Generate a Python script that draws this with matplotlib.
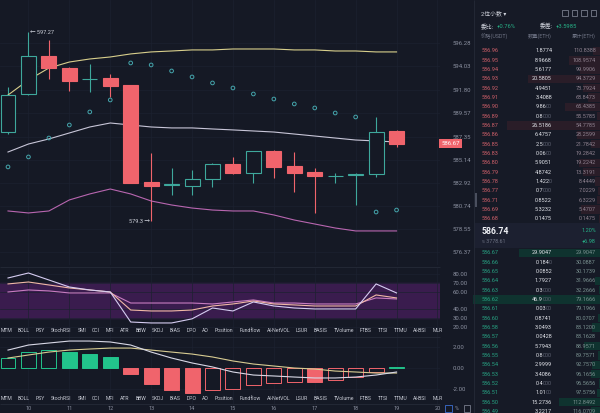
import matplotlib
matplotlib.use("Agg")
import matplotlib.pyplot as plt
from matplotlib.patches import Rectangle
from matplotlib.transforms import blended_transform_factory
import numpy as np

plt.rcParams['font.family'] = ['Roboto', 'Noto Sans CJK SC', 'DejaVu Sans']

BG = '#151925'
GRID = '#1c2130'
UP = '#3ea89c'
DOWN = '#f0646c'
AXIS_TXT = '#8b90a0'

# 12h candles, two per day
opens = [587.78, 591.40, 595.00, 593.87, 592.78, 592.92, 592.26, 583.03, 582.70, 582.65,
         583.31, 584.74, 583.88, 585.98, 584.55, 583.98, 583.55, 583.69, 583.79, 587.88]
highs = [592.06, 597.27, 596.50, 593.95, 594.25, 593.30, 592.30, 585.80, 584.36, 584.17,
         584.80, 585.41, 586.00, 586.05, 585.88, 584.36, 583.88, 583.85, 589.21, 587.95]
lows = [587.60, 591.30, 592.80, 591.69, 591.59, 591.11, 582.93, 579.30, 581.79, 581.79,
        582.55, 583.80, 582.93, 583.41, 582.07, 580.08, 582.93, 580.84, 583.50, 586.36]
closes = [591.30, 595.00, 593.87, 592.64, 592.83, 592.16, 582.93, 582.65, 582.79, 583.31,
          584.74, 583.88, 585.98, 584.46, 583.88, 583.60, 583.60, 583.79, 587.78, 586.67]

boll_up = [591.30, 592.73, 593.87, 594.44, 594.73, 594.92, 595.21, 595.40, 595.49, 595.59,
           595.59, 595.68, 595.68, 595.68, 595.59, 595.59, 595.49, 595.49, 595.40, 595.40]
boll_mid = [585.88, 586.64, 587.12, 587.69, 588.26, 588.64, 588.45, 588.26, 588.17, 588.17,
            588.07, 587.98, 587.88, 587.78, 587.59, 587.40, 587.21, 587.02, 586.93, 586.83]
boll_low = [580.27, 580.08, 580.27, 581.32, 581.89, 582.36, 581.89, 581.22, 580.84, 580.55,
            580.36, 580.27, 580.27, 579.89, 579.41, 579.03, 578.65, 578.37, 578.37, 578.37]
sar = [584.46, 585.41, 587.21, 588.45, 589.69, 590.83, 594.35, 594.16, 593.59, 593.02,
       592.45, 591.97, 591.40, 590.92, 590.45, 590.07, 589.59, 589.21, 580.17, 580.36]

rsi_a = [75.7, 81.4, 73.4, 65.4, 62.0, 59.7, 25.4, 24.3, 24.3, 29.0,
         41.4, 38.0, 48.3, 43.7, 41.4, 40.3, 40.3, 40.3, 68.9, 58.6]
rsi_b = [68.9, 71.1, 67.7, 64.3, 62.0, 59.7, 39.1, 38.0, 38.0, 39.1,
         43.7, 46.0, 49.4, 46.0, 44.9, 43.7, 43.7, 43.7, 56.3, 52.9]
rsi_c = [59.7, 62.0, 60.9, 58.6, 58.6, 58.6, 47.1, 47.1, 47.1, 47.1,
         46.0, 48.3, 50.6, 47.1, 47.1, 46.0, 46.0, 46.0, 52.9, 51.7]

macd_hist = [0.95, 1.52, 1.71, 1.52, 1.33, 1.05, -0.57, -1.52, -2.10, -2.38,
             -2.10, -2.00, -1.62, -1.43, -1.33, -1.33, -1.14, -0.86, -0.38, 0.10]
macd_dif = [1.71, 2.19, 2.38, 2.57, 2.57, 2.48, 2.19, 1.52, 0.95, 0.48,
            0.10, -0.38, -0.67, -0.76, -0.86, -0.95, -0.95, -0.86, -0.67, -0.38]
macd_dea = [0.95, 1.24, 1.52, 1.71, 1.81, 1.90, 1.90, 1.71, 1.52, 1.33,
            1.05, 0.67, 0.38, 0.19, 0.00, -0.10, -0.29, -0.38, -0.48, -0.48]

day_labels = ['10', '11', '12', '13', '14', '15', '16', '17', '18', '19', '20']
day_index = [1, 3, 5, 7, 9, 11, 13, 15, 17, 19, 21]
price_ticks = [596.28, 594.03, 591.80, 589.57, 587.35, 585.14, 582.92, 580.74, 578.55, 576.37]
rsi_ticks = [80, 70, 60, 40, 30, 20]
macd_ticks = [2, 0, -2]
last_price = 586.67
high_mark = (1, 597.27)
low_mark = (7, 579.3)

indicator_names = ['MTM', 'BOLL', 'PSY', 'StochRSI', 'SMI', 'CCI', 'MFI', 'ATR', 'BBW', 'SKDJ',
                   'BIAS', 'DPO', 'AO', 'Position', 'Fundflow', 'AI-NetVOL', 'LSUR', 'BASIS',
                   'TVolume', 'FTBS', 'TTSI', 'TTMU', 'AI-BSI', 'MLR']

ask_prices = ['586.96', '586.95', '586.94', '586.93', '586.92', '586.91', '586.90', '586.89',
              '586.87', '586.86', '586.85', '586.83', '586.80', '586.79', '586.78', '586.77',
              '586.71', '586.69', '586.68']
ask_sizes = [1.8774, 8.9668, 5.6177, 20.5805, 4.9451, 3.4088, 9.8600, 0.8000, 26.5186, 6.4757,
             2.5000, 0.0600, 5.9051, 4.8742, 1.4220, 0.7000, 0.8522, 5.3232, 0.1475]
ask_cum = [110.8388, 108.9574, 99.9906, 94.3729, 73.7924, 68.8473, 65.4385, 55.5785, 54.7785,
           28.2599, 21.7842, 19.2842, 19.2242, 13.3191, 8.4449, 7.0229, 6.3229, 5.4707, 0.1475]
bid_prices = ['586.67', '586.66', '586.65', '586.64', '586.63', '586.62', '586.61', '586.60',
              '586.58', '586.57', '586.56', '586.55', '586.54', '586.53', '586.52', '586.51',
              '586.50', '586.49']
bid_sizes = [29.9047, 0.1840, 0.0852, 1.7927, 0.3000, 46.9000, 0.0300, 0.8741, 3.0493, 0.0428,
             5.7943, 0.8000, 2.9999, 3.4086, 0.4000, 1.0100, 15.2736, 3.2217]
bid_cum = [29.9047, 30.0887, 30.1739, 31.9666, 32.2666, 79.1666, 79.1966, 80.0707, 83.1200,
           83.1628, 88.9571, 89.7571, 92.7570, 96.1656, 96.5656, 97.5756, 112.8492, 116.0709]
mid_price = '586.74'
mid_usd = '≈ 3778.61'
change_pct = '1.20%'
change_abs = '+6.98'

W, H = 600, 413
fig = plt.figure(figsize=(W / 100, H / 100), dpi=100, facecolor=BG)


def px_axes(x0, y0, x1, y1):
    ax = fig.add_axes([x0 / W, 1 - y1 / H, (x1 - x0) / W, (y1 - y0) / H])
    ax.set_facecolor(BG)
    for s in ax.spines.values():
        s.set_visible(False)
    return ax


# x pixel of candle i = 8 + 20.45 * i
XL = (-8 / 20.45, 432 / 20.45)
x = np.arange(len(closes))
bw = 0.73


def style_panel(ax, ticks, fmt):
    ax.set_xlim(*XL)
    ax.set_xticks(day_index)
    ax.set_xticklabels([])
    ax.set_yticks(ticks)
    ax.set_yticklabels([fmt % t for t in ticks])
    ax.yaxis.tick_right()
    ax.tick_params(length=0, labelsize=4.3, labelcolor=AXIS_TXT, pad=9)
    ax.grid(True, color=GRID, lw=0.5)
    ax.set_axisbelow(True)


# ---- main price panel
ax = px_axes(0, 0, 440, 265)
ax.set_ylim(575.13, 600.34)
style_panel(ax, price_ticks, '%.2f')

for i in range(len(closes)):
    o, h, l, c = opens[i], highs[i], lows[i], closes[i]
    up = c >= o
    col = UP if up else DOWN
    top, bot = max(o, c), min(o, c)
    ax.vlines(i, top, h, color=col, lw=0.8)
    ax.vlines(i, l, bot, color=col, lw=0.8)
    ax.add_patch(Rectangle((i - bw / 2, bot), bw, max(top - bot, 0.02),
                           facecolor=BG if up else col, edgecolor=col, lw=0.8, zorder=3))

ax.plot(x, boll_up, color='#d8cf8c', lw=0.8)
ax.plot(x, boll_mid, color='#c8c6d8', lw=0.8)
ax.plot(x, boll_low, color='#b866b0', lw=0.8)
ax.scatter(x, sar, s=7, facecolors='none', edgecolors='#45a6ad', lw=0.7, zorder=4)

ax.text(high_mark[0] + 0.08, high_mark[1], '← %.2f' % high_mark[1], color='#d0d3dc',
        fontsize=4, va='center', ha='left')
ax.text(low_mark[0] - 0.05, low_mark[1], '%.1f →' % low_mark[1], color='#d0d3dc',
        fontsize=4, va='center', ha='right')

tr = blended_transform_factory(ax.transAxes, ax.transData)
ax.text(1.003, last_price, '%.2f' % last_price, transform=tr, color='white', fontsize=4.3,
        va='center', ha='left', zorder=10,
        bbox=dict(boxstyle='square,pad=0.35', facecolor=DOWN, edgecolor='none'))

# ---- RSI panel
ax2 = px_axes(0, 268, 440, 336)
ax2.set_ylim(9.4, 87.1)
style_panel(ax2, rsi_ticks, '%.2f')
ax2.axhspan(30, 70, color='#3a1c4e', zorder=0)
ax2.plot(x, rsi_c, color='#c77cc0', lw=0.8)
ax2.plot(x, rsi_b, color='#f0b8a6', lw=0.8)
ax2.plot(x, rsi_a, color='#d6cdf2', lw=0.8)

# ---- MACD panel
ax3 = px_axes(0, 336, 440, 404)
ax3.set_ylim(-3.43, 3.05)
style_panel(ax3, macd_ticks, '%.2f')
prev = None
for i, v in enumerate(macd_hist):
    if v >= 0:
        col = '#22c48c'
        filled = not (prev is None or v >= prev)
    else:
        col = DOWN
        filled = prev is not None and v <= prev
    ax3.bar(i, v, width=bw, facecolor=col if filled else BG, edgecolor=col, lw=0.7, zorder=3)
    prev = v
ax3.plot(x, macd_dea, color='#d8cc92', lw=0.8, zorder=4)
ax3.plot(x, macd_dif, color='#d8d8e6', lw=0.8, zorder=4)

# ---- overlay for texts and the order book
ov = fig.add_axes([0, 0, 1, 1], zorder=5)
ov.set_xlim(0, W)
ov.set_ylim(H, 0)
ov.axis('off')
ov.patch.set_alpha(0)
renderer = fig.canvas.get_renderer()

for yy in [266.5, 336.5, 403.5]:
    ov.hlines(yy, 0, 440, color='#252a37', lw=0.6)

for row_y in [330, 398.5]:
    xp = 0.5
    for name in indicator_names:
        t = ov.text(xp, row_y, name, color='#c6c9d3', fontsize=3.7, va='center', ha='left')
        xp += t.get_window_extent(renderer).width + 5.8

for lab, di in zip(day_labels, day_index):
    ov.text(8 + 20.45 * di, 408.5, lab, color=AXIS_TXT, fontsize=4, ha='center', va='center')
ov.add_patch(Rectangle((445, 405), 7, 7, facecolor='none', edgecolor='#3d6fd0', lw=0.6))
ov.text(457, 408.5, '%', color=AXIS_TXT, fontsize=4, ha='center', va='center')
ov.add_patch(Rectangle((464, 405), 6, 7, facecolor='none', edgecolor=AXIS_TXT, lw=0.5))

# order book
ov.add_patch(Rectangle((474, 0), 126, H, facecolor='#161a26', edgecolor='none', zorder=0))
ov.vlines(474, 0, H, color='#252a37', lw=0.6)
ov.add_patch(Rectangle((475, 193), 2, 14, facecolor='#4a4f5e', edgecolor='none', zorder=2))
ov.text(481, 13, '2位小数 ▾', color='#d0d3dc', fontsize=4.2, va='center')
for k in range(4):
    ov.add_patch(Rectangle((562 + k * 9.5, 10), 5.5, 5.5, facecolor='none',
                           edgecolor='#8b90a0', lw=0.5))
ov.text(481, 26, '委比:', color='#d0d3dc', fontsize=4.2, va='center')
ov.text(497, 26, '+0.76%', color='#27b187', fontsize=4.2, va='center')
ov.text(540, 26, '委差:', color='#d0d3dc', fontsize=4.2, va='center')
ov.text(556, 26, '+3.5985', color='#27b187', fontsize=4.2, va='center')
ov.text(481, 36.5, '价格(USDT)', color='#6f7485', fontsize=3.8, va='center')
ov.text(552, 36.5, '数量(ETH)', color='#6f7485', fontsize=3.8, va='center', ha='right')
ov.text(596, 36.5, '累计(ETH)', color='#6f7485', fontsize=3.8, va='center', ha='right')


def size_text(xr, yy, val):
    s = '%.4f' % val
    main = s.rstrip('0')
    zeros = s[len(main):]
    if zeros:
        t = ov.text(xr, yy, zeros, color='#5d6272', fontsize=4, va='center', ha='right')
        xr -= t.get_window_extent(renderer).width
    ov.text(xr, yy, main, color='#e2e4ea', fontsize=4, va='center', ha='right')


def book_rows(y0, prices, sizes, cums, pcol, ccol, barcol, scale):
    for i in range(len(prices)):
        yy = y0 + i * 9.32
        ov.add_patch(Rectangle((600 - sizes[i] * scale, yy - 4.2), sizes[i] * scale, 8.4,
                               facecolor=barcol, edgecolor='none', zorder=1))
        ov.text(482, yy, prices[i], color=pcol, fontsize=4, va='center')
        size_text(552, yy, sizes[i])
        ov.text(596, yy, '%.4f' % cums[i], color=ccol, fontsize=4, va='center', ha='right')


book_rows(51, ask_prices, ask_sizes, ask_cum, '#d0606a', '#8f8290', '#2a1d28', 3.5)
book_rows(253, bid_prices, bid_sizes, bid_cum, '#27a383', '#7a9190', '#0f332f', 2.7)

ov.add_patch(Rectangle((475, 223), 125, 25, facecolor='#1c2030', edgecolor='none', zorder=1))
ov.text(482, 232, mid_price, color='#eef0f5', fontsize=6.3, fontweight='bold', va='center')
ov.text(482, 241.5, mid_usd, color='#6f7485', fontsize=3.8, va='center')
ov.text(596, 231, change_pct, color='#27b187', fontsize=4, va='center', ha='right')
ov.text(596, 241.5, change_abs, color='#27b187', fontsize=4, va='center', ha='right')

fig.savefig('out.png', dpi=100, facecolor=BG)
